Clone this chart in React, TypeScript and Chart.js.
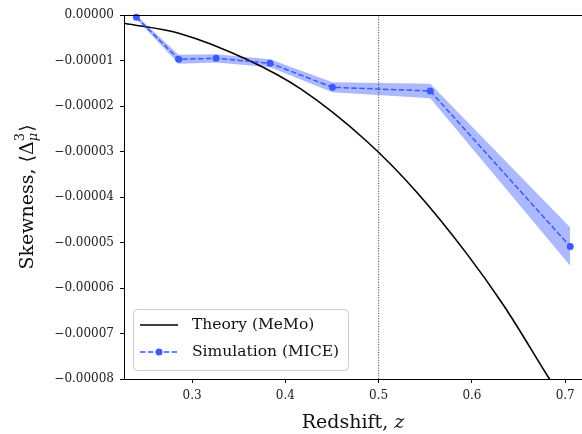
import { useEffect, useRef } from "react";
import { Chart, registerables } from "chart.js";

Chart.register(...registerables);

// Simulation (MICE) measurements
const simZ = [0.2403, 0.2856, 0.3257, 0.3836, 0.4505, 0.5553, 0.7054];
const simY = [-0.05e-5, -0.974e-5, -0.952e-5, -1.06e-5, -1.589e-5, -1.67e-5, -5.09e-5];
const simErr = [0.04e-5, 0.1e-5, 0.09e-5, 0.09e-5, 0.11e-5, 0.16e-5, 0.42e-5];

// Theory (MeMo) curve
const theoryZ = [0.222, 0.2267, 0.2875, 0.3589, 0.416, 0.4875, 0.5411, 0.5946, 0.6339, 0.6828, 0.7];
const theoryY = [-0.162e-5, -0.18e-5, -0.41e-5, -0.98e-5, -1.62e-5, -2.78e-5, -3.9e-5, -5.25e-5, -6.38e-5, -7.99e-5, -8.55e-5];

// Reference redshift (vertical dotted line)
const zRef = 0.5;

const xTicks = [0.3, 0.4, 0.5, 0.6, 0.7];
const yTicks = [0, -1e-5, -2e-5, -3e-5, -4e-5, -5e-5, -6e-5, -7e-5, -8e-5];
const xRange = [0.227, 0.718];
const yRange = [-8e-5, 0];

const theoryLabel = "Theory (MeMo)";
const simLabel = "Simulation (MICE)";
const xTitle = ["Redshift, ", "z"];
const yTitle = ["Skewness, ", "\u27E8", "\u0394", "3", "\u03BC", "\u27E9"];

const SERIF = "'DejaVu Serif', serif";
const BLUE = "rgb(59,89,255)";
const BAND = "rgba(59,89,255,0.42)";

const decorPlugin = {
  id: "decor",
  afterDraw(chart: any) {
    const { ctx, chartArea: a } = chart;
    ctx.save();
    // top spine
    ctx.strokeStyle = "#000";
    ctx.lineWidth = 1;
    ctx.beginPath();
    ctx.moveTo(a.left, a.top + 0.5);
    ctx.lineTo(a.right, a.top + 0.5);
    ctx.stroke();

    ctx.fillStyle = "#111";
    ctx.textBaseline = "alphabetic";
    ctx.textAlign = "left";

    // x-axis title
    const big = `19px ${SERIF}`;
    const bigIt = `italic 19px ${SERIF}`;
    ctx.font = big;
    const w0 = ctx.measureText(xTitle[0]).width;
    ctx.font = bigIt;
    const w1 = ctx.measureText(xTitle[1]).width;
    const xs = (a.left + a.right) / 2 - (w0 + w1) / 2;
    ctx.font = big;
    ctx.fillText(xTitle[0], xs, 428);
    ctx.font = bigIt;
    ctx.fillText(xTitle[1], xs + w0, 428);

    // y-axis title with super/subscript
    const small = `13px ${SERIF}`;
    const smallIt = `italic 13px ${SERIF}`;
    const parts: [string, string, number][] = [
      [yTitle[0], big, 0],
      [yTitle[1], big, 0],
      [yTitle[2], big, 0],
      [yTitle[3], small, -9],
      [yTitle[4], smallIt, 4],
      [yTitle[5], big, 0],
    ];
    const widths: number[] = parts.map(([t, f]) => {
      ctx.font = f;
      return ctx.measureText(t).width;
    });
    const scriptW = Math.max(widths[3], widths[4]) + 1;
    const total = widths[0] + widths[1] + widths[2] + scriptW + widths[5];
    ctx.translate(33, (a.top + a.bottom) / 2);
    ctx.rotate(-Math.PI / 2);
    let x = -total / 2;
    parts.forEach(([t, f, dy], i) => {
      ctx.font = f;
      ctx.fillText(t, x, dy);
      if (i === 3) return;
      if (i === 4) {
        x += scriptW;
        return;
      }
      x += widths[i];
    });
    ctx.restore();

    // legend
    ctx.save();
    const bx = 133, by = 309, bw = 215, bh = 61;
    ctx.fillStyle = "rgba(255,255,255,0.8)";
    ctx.strokeStyle = "#cccccc";
    ctx.lineWidth = 1;
    ctx.beginPath();
    (ctx as any).roundRect(bx + 0.5, by + 0.5, bw, bh, 4);
    ctx.fill();
    ctx.stroke();
    const ds = chart.data.datasets;
    const th = ds.find((d: any) => d.label === theoryLabel);
    const sm = ds.find((d: any) => d.label === simLabel);
    ctx.font = `15.5px ${SERIF}`;
    ctx.textBaseline = "middle";
    ctx.textAlign = "left";
    // theory entry
    ctx.strokeStyle = th.borderColor;
    ctx.lineWidth = th.borderWidth;
    ctx.beginPath();
    ctx.moveTo(140, 325);
    ctx.lineTo(178, 325);
    ctx.stroke();
    ctx.fillStyle = "#111";
    ctx.fillText(th.label, 192, 325);
    // simulation entry
    ctx.strokeStyle = sm.borderColor;
    ctx.lineWidth = sm.borderWidth;
    ctx.setLineDash(sm.borderDash);
    ctx.beginPath();
    ctx.moveTo(140, 352);
    ctx.lineTo(178, 352);
    ctx.stroke();
    ctx.setLineDash([]);
    ctx.fillStyle = sm.pointBackgroundColor;
    ctx.beginPath();
    ctx.arc(159, 352, 3.5, 0, Math.PI * 2);
    ctx.fill();
    ctx.fillStyle = "#111";
    ctx.fillText(sm.label, 192, 352);
    ctx.restore();
  },
};

export default function App() {
  const ref = useRef<HTMLCanvasElement>(null);
  useEffect(() => {
    if (!ref.current) return;
    const chart = new Chart(ref.current, {
      type: "line",
      data: {
        datasets: [
          {
            label: simLabel,
            data: simZ.map((z, i) => ({ x: z, y: simY[i] })),
            borderColor: BLUE,
            backgroundColor: BLUE,
            pointBackgroundColor: BLUE,
            pointBorderColor: BLUE,
            pointRadius: 3.5,
            pointBorderWidth: 0,
            borderWidth: 1.5,
            borderDash: [5.5, 2.4],
            tension: 0,
            fill: false,
            clip: false,
          } as any,
          {
            label: theoryLabel,
            data: theoryZ.map((z, i) => ({ x: z, y: theoryY[i] })),
            borderColor: "#000",
            borderWidth: 1.6,
            pointRadius: 0,
            cubicInterpolationMode: "monotone",
            fill: false,
          },
          {
            label: "zref",
            data: [
              { x: zRef, y: yRange[0] },
              { x: zRef, y: yRange[1] },
            ],
            borderColor: "#333",
            borderWidth: 1,
            borderDash: [1, 1.6],
            pointRadius: 0,
            fill: false,
          },
          {
            label: "band-lower",
            data: simZ.map((z, i) => ({ x: z, y: simY[i] - simErr[i] })),
            borderWidth: 0,
            borderColor: "rgba(0,0,0,0)",
            pointRadius: 0,
            tension: 0,
            fill: false,
          },
          {
            label: "band-upper",
            data: simZ.map((z, i) => ({ x: z, y: simY[i] + simErr[i] })),
            borderWidth: 0,
            borderColor: "rgba(0,0,0,0)",
            backgroundColor: BAND,
            pointRadius: 0,
            tension: 0,
            fill: 3,
          },
        ],
      },
      options: {
        animation: false,
        responsive: false,
        layout: { autoPadding: false, padding: { top: 15, right: 0, left: 0, bottom: 0 } },
        plugins: {
          legend: { display: false },
          tooltip: { enabled: false },
          filler: { propagate: false },
        },
        scales: {
          x: {
            type: "linear",
            min: xRange[0],
            max: xRange[1],
            afterBuildTicks: (s: any) => {
              s.ticks = xTicks.map((v) => ({ value: v }));
            },
            afterFit: (s: any) => {
              s.height = 55;
            },
            grid: {
              drawOnChartArea: false,
              drawTicks: true,
              tickLength: 4,
              tickColor: "#000",
              tickWidth: 1,
            },
            border: { display: true, color: "#000", width: 1 },
            ticks: {
              color: "#222",
              font: { family: SERIF, size: 12 },
              padding: 6,
              maxRotation: 0,
              callback: (v: any) => Number(v).toFixed(1),
            },
            title: { display: false },
          },
          y: {
            type: "linear",
            min: yRange[0],
            max: yRange[1],
            afterBuildTicks: (s: any) => {
              s.ticks = yTicks.map((v) => ({ value: v }));
            },
            afterFit: (s: any) => {
              s.width = 124;
            },
            grid: {
              drawOnChartArea: false,
              drawTicks: true,
              tickLength: 4,
              tickColor: "#000",
              tickWidth: 1,
            },
            border: { display: true, color: "#000", width: 1 },
            ticks: {
              color: "#222",
              font: { family: SERIF, size: 12 },
              padding: 6,
              callback: (v: any) => {
                const n = Number(v);
                if (Math.abs(n) < 1e-12) return "0.00000";
                return (n < 0 ? "\u2212" : "") + Math.abs(n).toFixed(5);
              },
            },
            title: { display: false },
          },
        },
      },
      plugins: [decorPlugin],
    });
    return () => chart.destroy();
  }, []);
  return (
    <div style={{ position: "fixed", left: 0, top: 0, width: 582, height: 434, background: "#fff" }}>
      <canvas ref={ref} width={582} height={434} />
    </div>
  );
}
